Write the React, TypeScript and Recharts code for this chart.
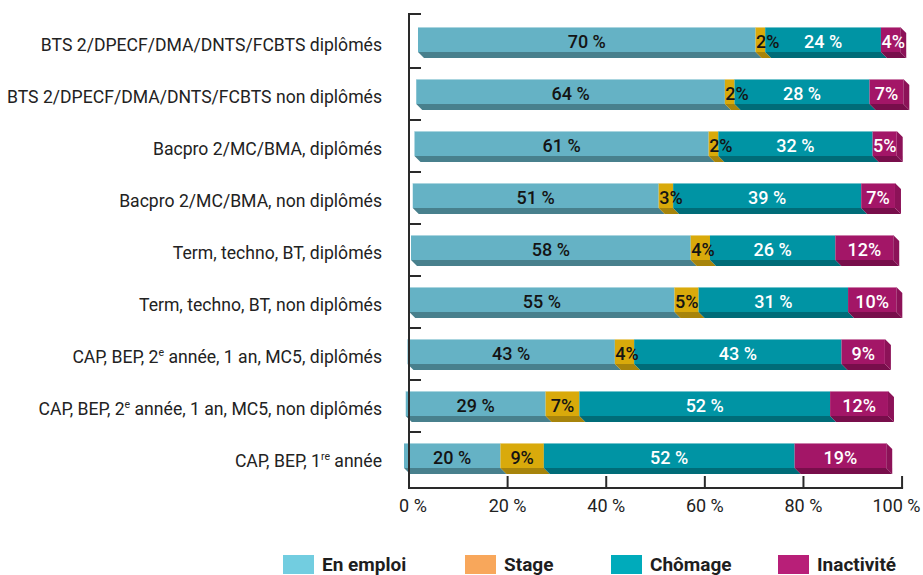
import React from 'react';
import { BarChart, Bar, XAxis, YAxis, Legend, LabelList } from 'recharts';

// ---------- data ----------
const categories = [
  'BTS 2/DPECF/DMA/DNTS/FCBTS diplômés',
  'BTS 2/DPECF/DMA/DNTS/FCBTS non diplômés',
  'Bacpro 2/MC/BMA, diplômés',
  'Bacpro 2/MC/BMA, non diplômés',
  'Term, techno, BT, diplômés',
  'Term, techno, BT, non diplômés',
  'CAP, BEP, 2e année, 1 an, MC5, diplômés',
  'CAP, BEP, 2e année, 1 an, MC5, non diplômés',
  'CAP, BEP, 1re année',
];
const enEmploi = [70, 64, 61, 51, 58, 55, 43, 29, 20];
const stage = [2, 2, 2, 3, 4, 5, 4, 7, 9];
const chomage = [24, 28, 32, 39, 26, 31, 43, 52, 52];
const inactivite = [4, 7, 5, 7, 12, 10, 9, 12, 19];
const xTicks = [0, 20, 40, 60, 80, 100];
const seriesNames = ['En emploi', 'Stage', 'Chômage', 'Inactivité'];

// ---------- styles ----------
const FONT = 'Roboto, "DejaVu Sans", sans-serif';
const W = 923;
const H = 575;
const PLOT_LEFT = 409;
const MARGIN_TOP = 13;
const PX_PER_UNIT = 4.93;
const DEPTH = 6;
const PERSP_TOP = 9;
const PERSP_STEP = 1.75;
const PERSP_K = 0.978;
const AXIS_COLOR = '#2a2a2a';
const LEGEND_X = [283, 465, 611, 778];

const series = [
  { key: 'emploi', name: seriesNames[0], face: '#65b2c5', bottom: '#48808d', side: '#4f8c99', legend: '#72cde0', text: '#141414', suffix: ' %' },
  { key: 'stage', name: seriesNames[1], face: '#d9aa0b', bottom: '#a7840b', side: '#b38e0c', legend: '#f8a75b', text: '#141414', suffix: '%' },
  { key: 'chomage', name: seriesNames[2], face: '#0094a4', bottom: '#006c78', side: '#007884', legend: '#00abbb', text: '#ffffff', suffix: ' %' },
  { key: 'inactivite', name: seriesNames[3], face: '#a31667', bottom: '#780e4b', side: '#8c1258', legend: '#b81f78', text: '#ffffff', suffix: '%' },
];

const data = categories.map((name, i) => ({
  name,
  emploi: enEmploi[i],
  stage: stage[i],
  chomage: chomage[i],
  inactivite: inactivite[i],
}));

const maxSum = Math.max(...categories.map((_, i) => enEmploi[i] + stage[i] + chomage[i] + inactivite[i]));
const PLOT_W = Math.round(maxSum * PX_PER_UNIT);
const MARGIN_RIGHT = W - PLOT_LEFT - PLOT_W;

const persp = (x: number, width: number, index: number) => {
  const shift = PERSP_TOP - PERSP_STEP * index;
  return { x0: PLOT_LEFT + shift + (x - PLOT_LEFT) * PERSP_K, w: width * PERSP_K };
};

const makeShape = (s: any, isLast: boolean) => (props: any) => {
  const { x, y, width, height, index } = props;
  if (!width || width <= 0) return <g />;
  const { x0, w } = persp(x, width, index);
  const fh = height - DEPTH;
  return (
    <g>
      <polygon
        points={`${x0},${y + fh} ${x0 + w},${y + fh} ${x0 + w + DEPTH},${y + height} ${x0 + DEPTH},${y + height}`}
        fill={s.bottom}
      />
      {isLast && (
        <polygon
          points={`${x0 + w},${y} ${x0 + w + DEPTH},${y + DEPTH} ${x0 + w + DEPTH},${y + height} ${x0 + w},${y + fh}`}
          fill={s.side}
        />
      )}
      <rect x={x0} y={y} width={w} height={fh} fill={s.face} />
      <line x1={x0} y1={y + 0.5} x2={x0 + w} y2={y + 0.5} stroke="#ffffff" strokeOpacity={0.45} strokeWidth={1} />
    </g>
  );
};

const textWidth = (t: string) => {
  let w = 0;
  for (const c of t) w += c === '%' ? 14.5 : c === ' ' ? 4.5 : 10;
  return w;
};

const makeLabel = (s: any) => (props: any) => {
  const vb = props.viewBox || {};
  const x = props.x ?? vb.x;
  const y = props.y ?? vb.y;
  const width = props.width ?? vb.width;
  const { value, index } = props;
  if (value == null || !width) return null;
  const { x0, w } = persp(x, width, index);
  const txt = `${value}${s.suffix}`;
  const tw = textWidth(txt);
  const fits = w >= tw + 2;
  return (
    <text
      x={fits ? x0 + w / 2 : x0 + 0.5}
      y={y + 20.5}
      textAnchor={fits ? 'middle' : 'start'}
      fontFamily={FONT}
      fontWeight={500}
      fontSize={18}
      fill={s.text}
    >
      {txt}
    </text>
  );
};

const YTick = (props: any) => {
  const { y, payload, index } = props;
  const label: string = payload.value;
  const m = label.match(/^(.*\d)(re|e)( .*)$/);
  const by = index === 0 ? MARGIN_TOP + 1 : y - 26;
  return (
    <g>
      <line x1={PLOT_LEFT - 1} y1={by} x2={PLOT_LEFT + 12} y2={by} stroke={AXIS_COLOR} strokeWidth={2} />
      <text x={PLOT_LEFT - 27} y={y + 9} textAnchor="end" fontFamily={FONT} fontSize={17.6} fill="#222">
        {m ? (
          <>
            <tspan>{m[1]}</tspan>
            <tspan fontSize={10.5} dy={-7}>{m[2]}</tspan>
            <tspan dy={7}>{m[3]}</tspan>
          </>
        ) : (
          label
        )}
      </text>
    </g>
  );
};

const XTick = (props: any) => {
  const { x, y, payload, index } = props;
  const txt = `${payload.value} %`;
  const half = textWidth(txt) / 2;
  const cx = Math.min(x, W - half - 2);
  return (
    <g>
      {index === xTicks.length - 1 && (
        <line x1={PLOT_LEFT - 1} y1={y} x2={x + 1} y2={y} stroke={AXIS_COLOR} strokeWidth={2} />
      )}
      <line x1={x} y1={y} x2={x} y2={y - 12} stroke={AXIS_COLOR} strokeWidth={2} />
      <text x={cx + (index === 0 ? 4 : 0)} y={y + 24} textAnchor="middle" fontFamily={FONT} fontSize={18} fill="#222">
        {txt}
      </text>
    </g>
  );
};

const LegendContent = () => (
  <div style={{ position: 'relative', width: W, height: 23 }}>
    {series.map((s, i) => (
      <div
        key={s.key}
        style={{ position: 'absolute', left: LEGEND_X[i], top: 3, display: 'flex', alignItems: 'center', whiteSpace: 'nowrap' }}
      >
        <div style={{ width: 31, height: 19, background: s.legend }} />
        <span
          style={{ marginLeft: 8, fontFamily: FONT, fontWeight: 700, fontSize: 19, color: '#1e1e1e', lineHeight: '19px' }}
        >
          {s.name}
        </span>
      </div>
    ))}
  </div>
);

export default function App() {
  return (
    <div style={{ position: 'absolute', left: 0, top: 0, width: W, height: H, background: '#fff' }}>
      <BarChart
        width={W}
        height={H}
        data={data}
        layout="vertical"
        barSize={31}
        margin={{ top: MARGIN_TOP, right: MARGIN_RIGHT, bottom: 34, left: 0 }}
      >
        <XAxis
          type="number"
          domain={[0, maxSum]}
          ticks={xTicks}
          axisLine={false}
          tickLine={false}
          tickSize={0}
          tickMargin={0}
          height={30}
          tick={<XTick />}
          interval={0}
        />
        <YAxis
          type="category"
          dataKey="name"
          width={PLOT_LEFT}
          axisLine={{ stroke: AXIS_COLOR, strokeWidth: 2 }}
          tickLine={false}
          tick={<YTick />}
          interval={0}
          padding={{ top: 3, bottom: 4 }}
        />
        <Legend
          verticalAlign="bottom"
          height={23}
          wrapperStyle={{ left: 0, bottom: 0, width: W, height: 23 }}
          content={<LegendContent />}
        />
        {series.map((s, i) => (
          <Bar
            key={s.key}
            dataKey={s.key}
            name={s.name}
            stackId="a"
            fill={s.face}
            isAnimationActive={false}
            shape={makeShape(s, i === series.length - 1)}
          >
            <LabelList dataKey={s.key} content={makeLabel(s)} />
          </Bar>
        ))}
      </BarChart>
    </div>
  );
}
